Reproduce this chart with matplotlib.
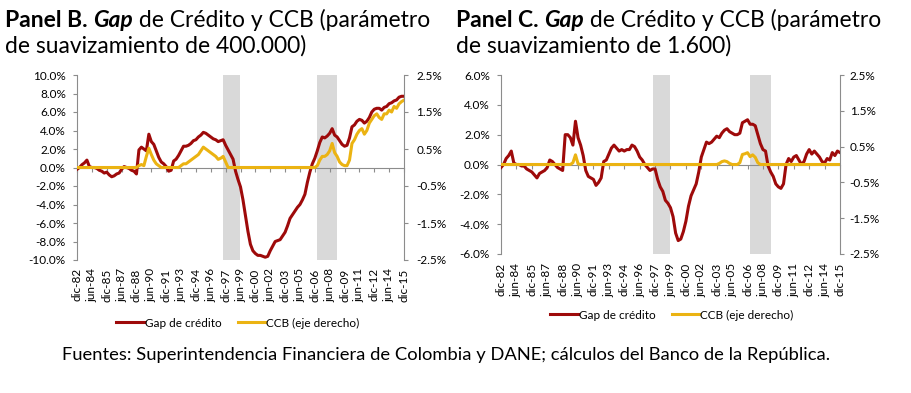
import numpy as np
import matplotlib
matplotlib.use('Agg')
import matplotlib.pyplot as plt

plt.rcParams['font.family'] = ['Lato', 'DejaVu Sans']

# quarterly data, dic-82 .. dic-15 (133 quarters)
tick_labels = ['dic-82', 'jun-84', 'dic-85', 'jun-87', 'dic-88', 'jun-90', 'dic-91', 'jun-93',
               'dic-94', 'jun-96', 'dic-97', 'jun-99', 'dic-00', 'jun-02', 'dic-03', 'jun-05',
               'dic-06', 'jun-08', 'dic-09', 'jun-11', 'dic-12', 'jun-14', 'dic-15']

# Panel B (lambda 400.000)
gap_b = [-0.2, 0.0, 0.3, 0.5, 0.8, 0.1, 0.0, 0.0, -0.1, -0.3, -0.4, -0.6, -0.5, -0.8, -1.0, -0.9,
         -0.7, -0.6, -0.2, 0.1, 0.0, -0.1, -0.3, -0.4, -0.7, 1.9, 2.2, 2.0, 1.8, 3.6, 2.8, 2.5,
         1.8, 1.1, 0.6, 0.4, 0.1, -0.4, -0.3, 0.7, 0.9, 1.3, 1.8, 2.3, 2.3, 2.4, 2.6, 2.9,
         3.0, 3.3, 3.5, 3.8, 3.7, 3.5, 3.3, 3.1, 3.0, 2.8, 2.9, 3.0, 2.4, 1.9, 1.4, 0.9,
         -0.4, -1.3, -2.1, -3.5, -5.2, -6.9, -8.3, -9.0, -9.3, -9.5, -9.5, -9.6, -9.7, -9.6, -9.0, -8.5,
         -8.0, -7.9, -7.8, -7.4, -7.0, -6.3, -5.5, -5.1, -4.7, -4.3, -4.0, -3.5, -2.9, -1.6, -0.5, 0.4,
         1.0, 1.8, 2.7, 3.3, 3.2, 3.4, 3.7, 4.2, 3.5, 3.3, 2.9, 2.5, 2.3, 2.4, 3.2, 4.4,
         4.6, 5.0, 5.2, 5.1, 4.8, 5.0, 5.4, 6.0, 6.3, 6.4, 6.4, 6.2, 6.5, 6.6, 6.9, 7.0,
         7.2, 7.3, 7.6, 7.7, 7.7]
ccb_b = [0, 0, 0, 0, 0, 0, 0, 0, 0, 0, 0, 0, 0, 0, 0, 0,
         0, 0, 0, 0, 0, 0, 0, 0, 0, 0.05, 0.08, 0.05, 0.3, 0.52, 0.35, 0.2,
         0.1, 0.05, 0, 0, 0, 0, 0, 0, 0, 0, 0.05, 0.1, 0.1, 0.15, 0.2, 0.25,
         0.3, 0.35, 0.45, 0.55, 0.5, 0.45, 0.4, 0.35, 0.3, 0.22, 0.25, 0.3, 0.15, 0, 0, 0,
         0, 0, 0, 0, 0, 0, 0, 0, 0, 0, 0, 0, 0, 0, 0, 0,
         0, 0, 0, 0, 0, 0, 0, 0, 0, 0, 0, 0, 0, 0, 0, 0,
         0, 0.05, 0.2, 0.3, 0.3, 0.35, 0.45, 0.65, 0.4, 0.3, 0.15, 0.08, 0.05, 0.05, 0.2, 0.65,
         0.75, 0.9, 1.0, 1.05, 0.9, 1.0, 1.2, 1.3, 1.4, 1.45, 1.35, 1.3, 1.45, 1.45, 1.55, 1.5,
         1.65, 1.6, 1.72, 1.78, 1.82]

# Panel C (lambda 1.600)
gap_c = [-0.2, 0.0, 0.4, 0.6, 0.9, 0.1, 0.0, 0.0, -0.1, -0.1, -0.3, -0.4, -0.5, -0.7, -0.9, -0.6,
         -0.5, -0.4, -0.2, 0.3, 0.2, 0.0, -0.2, -0.3, -0.4, 2.0, 2.0, 1.8, 1.3, 2.9, 1.8, 1.3,
         0.6, -0.4, -0.8, -0.9, -1.0, -1.4, -1.2, -0.9, 0.2, 0.3, 0.7, 1.1, 1.3, 1.1, 0.9, 1.0,
         0.9, 1.0, 1.0, 1.3, 1.2, 0.9, 0.5, 0.3, 0.0, -0.2, -0.4, -0.3, -0.3, -1.0, -1.5, -1.8,
         -2.4, -2.6, -2.9, -3.5, -4.6, -5.1, -5.0, -4.5, -3.8, -2.8, -2.1, -1.7, -1.3, -0.5, 0.5, 1.0,
         1.5, 1.4, 1.5, 1.7, 1.9, 1.8, 2.1, 2.3, 2.4, 2.2, 2.1, 2.0, 2.0, 2.1, 2.8, 2.9,
         3.0, 2.7, 2.7, 2.6, 2.0, 1.4, 1.0, 0.9, -0.1, -0.5, -0.8, -1.3, -1.5, -1.6, -1.3, 0.0,
         0.4, 0.2, 0.5, 0.6, 0.3, 0.0, 0.2, 0.7, 1.0, 0.7, 0.9, 0.7, 0.5, 0.2, 0.1, 0.4,
         0.3, 0.8, 0.6, 0.9, 0.8]
ccb_c = [0, 0, 0, 0, 0, 0, 0, 0, 0, 0, 0, 0, 0, 0, 0, 0,
         0, 0, 0, 0, 0, 0, 0, 0, 0, 0, 0, 0, 0.05, 0.27, 0.02, 0,
         0, 0, 0, 0, 0, 0, 0, 0, 0, 0, 0, 0, 0, 0, 0, 0,
         0, 0, 0, 0, 0, 0, 0, 0, 0, 0, 0, 0, 0, 0, 0, 0,
         0, 0, 0, 0, 0, 0, 0, 0, 0, 0, 0, 0, 0, 0, 0, 0,
         0, 0, 0, 0, 0, 0.03, 0.08, 0.1, 0.08, 0.03, 0, 0, 0, 0.05, 0.28, 0.3,
         0.33, 0.22, 0.27, 0.2, 0.05, 0, 0, 0, 0, 0, 0, 0, 0, 0, 0, 0,
         0, 0, 0, 0, 0, 0, 0, 0, 0, 0, 0, 0, 0, 0, 0, 0,
         0, 0, 0, 0, 0]

# recession shading (quarter index)
shades = [(59, 66), (97, 105)]

red = '#9E0A0A'
gold = '#EBB312'
grey = '#8C8C8C'

fig = plt.figure(figsize=(9.12, 3.93), dpi=100)


def panel(rect, gap, ccb, ylim, yticks, lpad, rpad, xpad, leg_x, leg_y):
    q = np.arange(len(gap))
    ax = fig.add_axes(rect)
    for a, b in shades:
        ax.axvspan(a, b, color='#D9D9D9', lw=0, zorder=0)
    ax.plot(q, gap, color=red, lw=2.2, label='Gap de crédito', zorder=3)
    ax.set_xlim(0, len(gap) - 1)
    ax.set_ylim(*ylim)
    ax.set_yticks(yticks)
    ax.set_yticklabels(['%.1f%%' % v for v in yticks])
    for s in ['top', 'right']:
        ax.spines[s].set_visible(False)
    ax.spines['left'].set_color(grey)
    ax.spines['bottom'].set_color(grey)
    ax.spines['bottom'].set_position(('data', 0))
    ax.tick_params(axis='y', direction='out', length=3, color=grey, pad=lpad, labelsize=8.5)
    ax.set_xticks(range(0, len(gap), 6))
    ax.tick_params(axis='x', direction='out', length=3, color=grey, labelbottom=False)
    sec = ax.secondary_xaxis('bottom')
    sec.set_xticks(range(0, len(gap), 6))
    sec.set_xticklabels(tick_labels, rotation=90)
    sec.tick_params(length=0, pad=xpad, labelsize=8.5)
    sec.spines['bottom'].set_visible(False)

    ax2 = ax.twinx()
    ax2.plot(q, ccb, color=gold, lw=2.2, label='CCB (eje derecho)')
    ax2.set_ylim(-2.5, 2.5)
    r_ticks = [2.5, 1.5, 0.5, -0.5, -1.5, -2.5]
    ax2.set_yticks(r_ticks)
    ax2.set_yticklabels(['%.1f%%' % v for v in r_ticks])
    for s in ['top', 'left', 'bottom']:
        ax2.spines[s].set_visible(False)
    ax2.spines['right'].set_color(grey)
    ax2.tick_params(axis='y', direction='out', length=3, color=grey, pad=rpad, labelsize=8.5)

    h1, l1 = ax.get_legend_handles_labels()
    h2, l2 = ax2.get_legend_handles_labels()
    fig.legend(h1 + h2, l1 + l2, loc='center', bbox_to_anchor=(leg_x, leg_y), ncol=2,
               frameon=False, fontsize=8.5, handlelength=2.3, handletextpad=0.1,
               columnspacing=1.4)
    return ax


panel([77 / 912, 1 - 260 / 393, 327 / 912, 185 / 393], gap_b, ccb_b, (-10, 10),
      [10, 8, 6, 4, 2, 0, -2, -4, -6, -8, -10], 5, 6, 6, 238 / 912, 1 - 323 / 393)
panel([501 / 912, 1 - 254 / 393, 339 / 912, 179 / 393], gap_c, ccb_c, (-6, 6),
      [6, 4, 2, 0, -2, -4, -6], 5, 4, 6.5, 672 / 912, 1 - 315 / 393)

# titles built piece by piece so "Gap" can be italic
renderer = fig.canvas.get_renderer()


def rich_line(x, y, parts, size=16.5):
    xpix = x * fig.bbox.width
    for txt, kw in parts:
        t = fig.text(xpix / fig.bbox.width, y, txt, fontsize=size, va='baseline', **kw)
        xpix += t.get_window_extent(renderer).width


rich_line(5 / 912, 1 - 27 / 393, [('Panel B. ', dict(weight='bold')),
                                  ('Gap', dict(weight='bold', style='italic')),
                                  (' de Crédito y CCB (parámetro', dict())])
rich_line(5 / 912, 1 - 53 / 393, [('de suavizamiento de 400.000)', dict())])
rich_line(456 / 912, 1 - 27 / 393, [('Panel C. ', dict(weight='bold')),
                                    ('Gap', dict(weight='bold', style='italic')),
                                    (' de Crédito y CCB (parámetro', dict())])
rich_line(456 / 912, 1 - 53 / 393, [('de suavizamiento de 1.600)', dict())])

fig.text(446 / 912, 1 - 355 / 393,
         'Fuentes: Superintendencia Financiera de Colombia y DANE; cálculos del Banco de la República.',
         ha='center', va='center', fontsize=13.2)

fig.savefig('out.png', dpi=100)
